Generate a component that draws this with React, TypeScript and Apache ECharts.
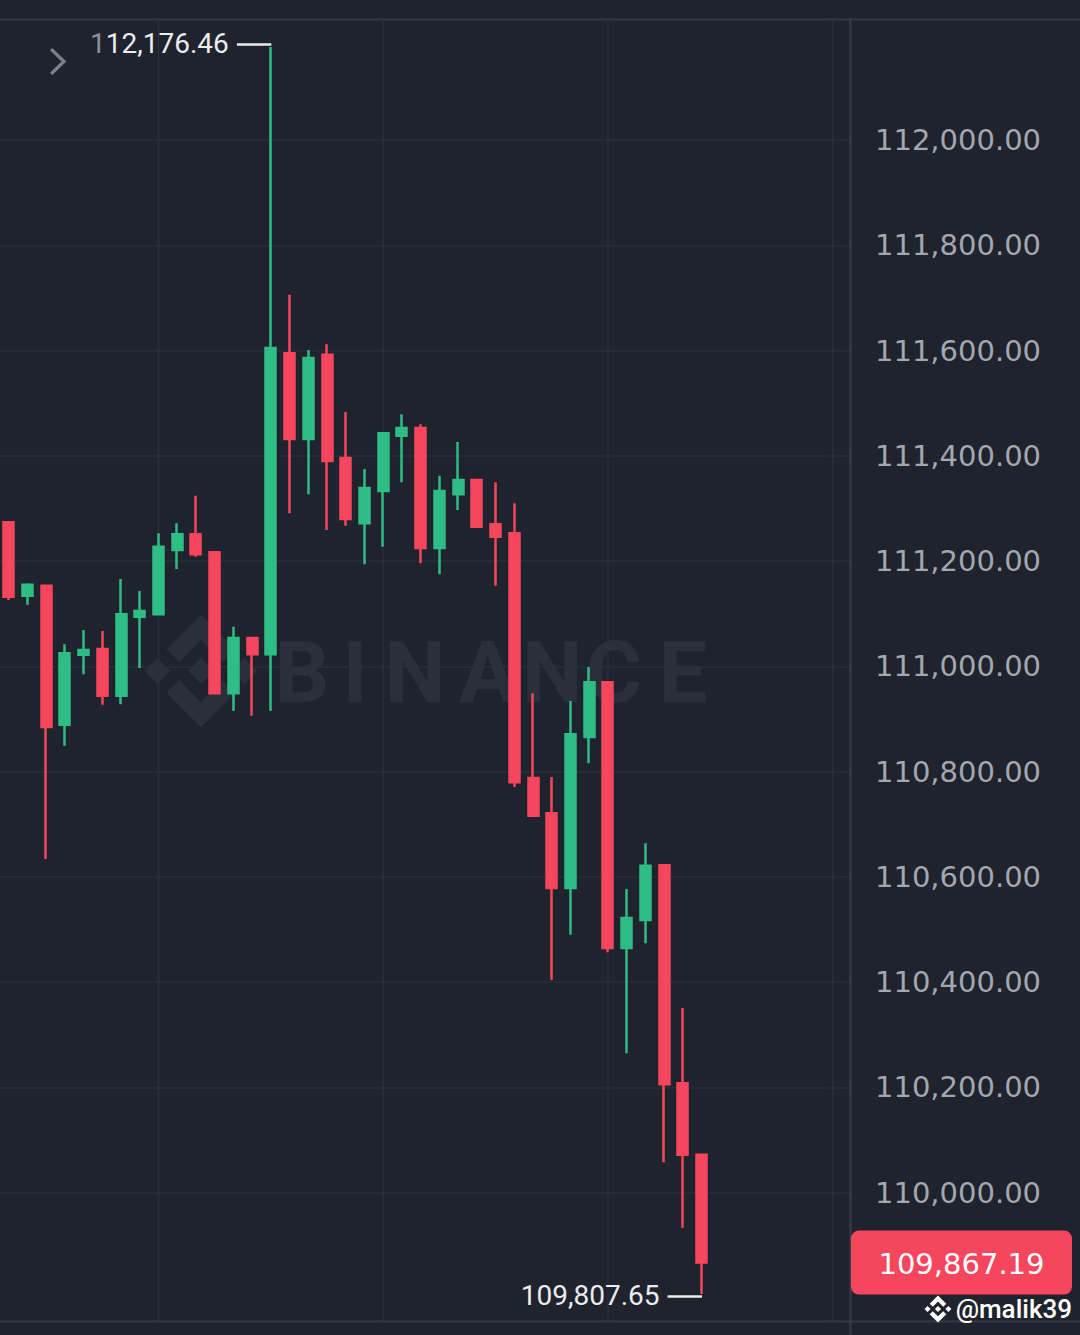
import React, { useEffect, useRef } from 'react';
import * as echarts from 'echarts';

// ---- data (BTC/USDT candles) ----
const opens = [
  111274, 111134, 111153, 110889, 111022, 111033, 110944, 111094, 111099, 111221,
  111251, 111217, 110949, 111054, 111023, 111595, 111432, 111592, 111396, 111272,
  111333, 111438, 111453, 111225, 111327, 111354, 111270, 111253, 110788, 110721,
  110579, 110866, 110970, 110465, 110518, 110622, 110208, 110072,
];
const closes = [
  111132, 111155, 110885, 111025, 111031, 110944, 111099, 111105, 111227, 111251,
  111213, 110949, 111054, 111023, 111605, 111432, 111586, 111390, 111280, 111339,
  111443, 111453, 111225, 111333, 111354, 111265, 111246, 110780, 110716, 110579,
  110871, 110970, 110465, 110522, 110621, 110206, 110072, 109867.19,
];
const lows = [
  111126, 111117, 110634, 110849, 110985, 110927, 110928, 110997, 111098, 111185,
  111208, 110947, 110915, 110906, 110915, 111291, 111327, 111259, 111267, 111194,
  111227, 111350, 111196, 111175, 111297, 111263, 111153, 110771, 110714, 110404,
  110490, 110816, 110457, 110265, 110474, 110058, 109933, 109807.65,
];
const highs = [
  111276, 111158, 111155, 111042, 111069, 111067, 111166, 111143, 111253, 111272,
  111324, 111219, 111075, 111055, 112176.46, 111706, 111601, 111612, 111483, 111375,
  111445, 111479, 111460, 111362, 111426, 111355, 111350, 111310, 110949, 110790,
  110934, 110999, 110971, 110577, 110664, 110623, 110351, 110072,
];
const yTickMin = 109800;
const yTickMax = 112200;
const yTickStep = 200;
const gridColumnIndices = [8, 20, 32, 44];
const watermarkLetters = ['B', 'I', 'N', 'A', 'N', 'C', 'E'];
const handle = '@malik39';

// ---- styles ----
const BG = '#1f232d';
const GRID = '#2a2e39';
const BORDER = '#343844';
const SEP = '#3a3e49';
const UP = '#2ebd85';
const DOWN = '#f6465d';
const AXIS_TEXT = '#a3a7af';
const WHITE = '#eaecef';
const WATER = '#2b2f39';

const X_MIN = -0.4646;
const X_MAX = 44.929;

const LOGO_D =
  'M24.43 38.9L63.32 0L102.22 38.91L87.92 53.22L63.32 28.62L38.73 53.2Z' +
  'M0 63.31L14.3 49L28.61 63.31L14.3 77.61Z' +
  'M24.43 87.7L38.73 73.41L63.32 98L87.92 73.4L102.23 87.69L63.32 126.6Z' +
  'M98 63.31L112.3 49L126.61 63.3L112.3 77.62Z' +
  'M63.32 48.78L77.83 63.3L63.32 77.82L48.81 63.3Z';

echarts.graphic.registerShape('bnbLogo', echarts.graphic.extendPath(LOGO_D, {}));

function fmt(v: number): string {
  const s = v.toFixed(2);
  const [a, b] = s.split('.');
  return a.replace(/\B(?=(\d{3})+(?!\d))/g, ',') + '.' + b;
}

export default function App() {
  const ref = useRef<HTMLDivElement>(null);

  useEffect(() => {
    const chart = echarts.init(ref.current!, null, { renderer: 'svg' });
    const data = opens.map((o, i) => [i, o, closes[i], lows[i], highs[i]]);

    chart.setOption({
      animation: false,
      backgroundColor: BG,
      grid: { left: 0, right: 230, top: 34.73, bottom: 37.03 },
      xAxis: { type: 'value', min: X_MIN, max: X_MAX, show: false },
      yAxis: {
        type: 'value',
        position: 'right',
        min: yTickMin,
        max: yTickMax,
        interval: yTickStep,
        axisLine: { show: false },
        axisTick: { show: false },
        splitLine: {
          show: true,
          showMinLine: false,
          showMaxLine: false,
          lineStyle: { color: GRID, width: 1.5 },
        },
        axisLabel: {
          showMinLabel: false,
          showMaxLabel: false,
          margin: 25,
          color: AXIS_TEXT,
          fontSize: 29,
          fontFamily: 'DejaVu Sans',
          padding: [0, 0, 4, 0],
          formatter: (v: number) => fmt(v),
        },
      },
      series: [
        {
          type: 'candlestick',
          data,
          barWidth: 10.5,
          itemStyle: {
            color: UP,
            color0: DOWN,
            borderColor: UP,
            borderColor0: DOWN,
            borderColorDoji: UP,
            borderWidth: 2.5,
          },
        },
      ],
    });

    const toPx = (x: number, y: number) =>
      chart.convertToPixel({ seriesIndex: 0 }, [x, y]) as number[];

    const [gridRight] = toPx(X_MAX, yTickMin);
    let hiIdx = 0;
    let loIdx = 0;
    highs.forEach((h, i) => { if (h > highs[hiIdx]) hiIdx = i; });
    lows.forEach((l, i) => { if (l < lows[loIdx]) loIdx = i; });
    const [hx, hy] = toPx(hiIdx, highs[hiIdx]);
    const [lx, ly] = toPx(loIdx, lows[loIdx]);
    const last = closes[closes.length - 1];
    const [, cy] = toPx(closes.length - 1, last);

    const TOP = 19.5;
    const BOTTOM = 1321.5;
    const elements: any[] = [];

    // borders & separator
    elements.push({ type: 'line', z: 0, shape: { x1: 0, y1: TOP, x2: 1080, y2: TOP }, style: { stroke: BORDER, lineWidth: 2 } });
    elements.push({ type: 'line', z: 0, shape: { x1: 0, y1: BOTTOM, x2: 1080, y2: BOTTOM }, style: { stroke: BORDER, lineWidth: 2 } });
    elements.push({ type: 'line', z: 0, shape: { x1: gridRight + 0.5, y1: TOP, x2: gridRight + 0.5, y2: 1335 }, style: { stroke: SEP, lineWidth: 2 } });

    // vertical grid lines at candle columns
    gridColumnIndices.forEach((ci) => {
      const [vx] = toPx(ci, yTickMin);
      elements.push({ type: 'line', z: 0, shape: { x1: vx, y1: TOP, x2: vx, y2: BOTTOM }, style: { stroke: GRID, lineWidth: 1.5 } });
    });

    // watermark
    const logoScale = 0.89;
    elements.push({ type: 'bnbLogo', z: 1, x: 144.7, y: 614.7, scaleX: logoScale, scaleY: logoScale, style: { fill: WATER } });
    const letterX = [302, 355, 415, 488, 552, 614, 683];
    watermarkLetters.forEach((ch, i) => {
      elements.push({
        type: 'text', z: 1,
        style: {
          text: ch, x: letterX[i], y: 672,
          fill: WATER, font: 'bold 86px Roboto',
          align: 'center', textAlign: 'center', verticalAlign: 'middle', textVerticalAlign: 'middle',
        },
      });
    });

    // ">" chevron
    elements.push({
      type: 'polyline', z: 5,
      shape: { points: [[52, 50], [64, 61.5], [52, 73]] },
      style: { stroke: '#7b8089', lineWidth: 3.2, fill: null, lineCap: 'round' },
    });

    // high label
    const hiText = fmt(highs[hiIdx]);
    elements.push({ type: 'line', z: 10, shape: { x1: hx - 34, y1: hy - 2.5, x2: hx + 0.5, y2: hy - 2.5 }, style: { stroke: WHITE, lineWidth: 2.5 } });
    elements.push({
      type: 'text', z: 10,
      style: {
        text: '{g|' + hiText[0] + '}{w|' + hiText.slice(1) + '}',
        x: hx - 42, y: hy - 3.5,
        font: '28px Roboto',
        align: 'right', textAlign: 'right', verticalAlign: 'middle', textVerticalAlign: 'middle',
        rich: {
          g: { fill: '#8d9199', color: '#8d9199', fontSize: 28, fontFamily: 'Roboto' },
          w: { fill: WHITE, color: WHITE, fontSize: 28, fontFamily: 'Roboto' },
        },
      },
    });

    // low label
    elements.push({ type: 'line', z: 10, shape: { x1: lx - 34, y1: ly + 2.5, x2: lx + 0.5, y2: ly + 2.5 }, style: { stroke: WHITE, lineWidth: 2.5 } });
    elements.push({
      type: 'text', z: 10,
      style: {
        text: fmt(lows[loIdx]), x: lx - 42, y: ly + 1.5,
        fill: WHITE, font: '28px Roboto',
        align: 'right', textAlign: 'right', verticalAlign: 'middle', textVerticalAlign: 'middle',
      },
    });

    // last price box
    elements.push({ type: 'rect', z: 10, shape: { x: gridRight + 1, y: cy - 32, width: 221, height: 64, r: 8 }, style: { fill: DOWN } });
    elements.push({
      type: 'text', z: 11,
      style: {
        text: fmt(last), x: gridRight + 1 + 110.5, y: cy + 1,
        fill: '#ffffff', font: '29px "DejaVu Sans"',
        align: 'center', textAlign: 'center', verticalAlign: 'middle', textVerticalAlign: 'middle',
      },
    });

    // handle
    const smallScale = 27 / 126.61;
    elements.push({ type: 'bnbLogo', z: 10, x: 924.5, y: 1295.5, scaleX: smallScale, scaleY: smallScale, style: { fill: '#ffffff' } });
    elements.push({
      type: 'text', z: 10,
      style: {
        text: handle, x: 1072, y: 1309,
        fill: '#ffffff', font: '500 26px Roboto',
        align: 'right', textAlign: 'right', verticalAlign: 'middle', textVerticalAlign: 'middle',
      },
    });

    chart.setOption({ graphic: { elements } });

    return () => chart.dispose();
  }, []);

  return (
    <div
      ref={ref}
      style={{ position: 'absolute', left: 0, top: 0, width: 1080, height: 1335 }}
    />
  );
}
